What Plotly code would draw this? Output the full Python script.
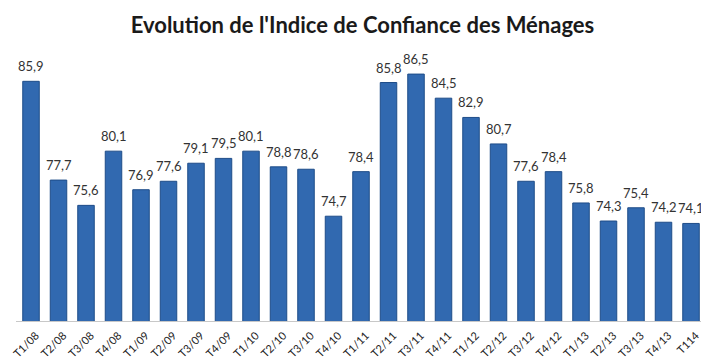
import plotly.graph_objects as go

categories = ["T1/08", "T2/08", "T3/08", "T4/08", "T1/09", "T2/09", "T3/09", "T4/09",
              "T1/10", "T2/10", "T3/10", "T4/10", "T1/11", "T2/11", "T3/11", "T4/11",
              "T1/12", "T2/12", "T3/12", "T4/12", "T1/13", "T2/13", "T3/13", "T4/13", "T114"]
values = [85.9, 77.7, 75.6, 80.1, 76.9, 77.6, 79.1, 79.5,
          80.1, 78.8, 78.6, 74.7, 78.4, 85.8, 86.5, 84.5,
          82.9, 80.7, 77.6, 78.4, 75.8, 74.3, 75.4, 74.2, 74.1]

labels = [f"{v:.1f}".replace(".", ",") for v in values]

fig = go.Figure(go.Bar(
    x=categories, y=values,
    marker=dict(color="#3169B0", line=dict(color="#1E4C88", width=1)),
))

for c, v, t in zip(categories, values, labels):
    fig.add_annotation(x=c, y=v, text=t, showarrow=False, yanchor="bottom", yshift=5,
                       font=dict(family="Lato, Open Sans, sans-serif", size=13, color="#333333"))

fig.update_layout(
    width=709, height=359,
    margin=dict(l=8, r=11, t=42, b=46, autoexpand=False),
    paper_bgcolor="white", plot_bgcolor="white",
    title=dict(text="<b>Evolution de l'Indice de Confiance des Ménages</b>",
               x=0.5, xanchor="center", y=0.952, yanchor="middle",
               font=dict(family="Lato, Open Sans, sans-serif", size=22, color="#1a1a1a")),
    bargap=0.4,
    showlegend=False,
    xaxis=dict(showline=True, linecolor="#c8c8c8", linewidth=1, ticks="",
               tickangle=-45, automargin=False, ticklabelshift=5, ticklabelstandoff=3,
               tickfont=dict(family="Lato, Open Sans, sans-serif", size=11, color="#222222"),
               showgrid=False),
    yaxis=dict(range=[66, 88.5], visible=False, showgrid=False),
)

fig.write_html("out.html")
